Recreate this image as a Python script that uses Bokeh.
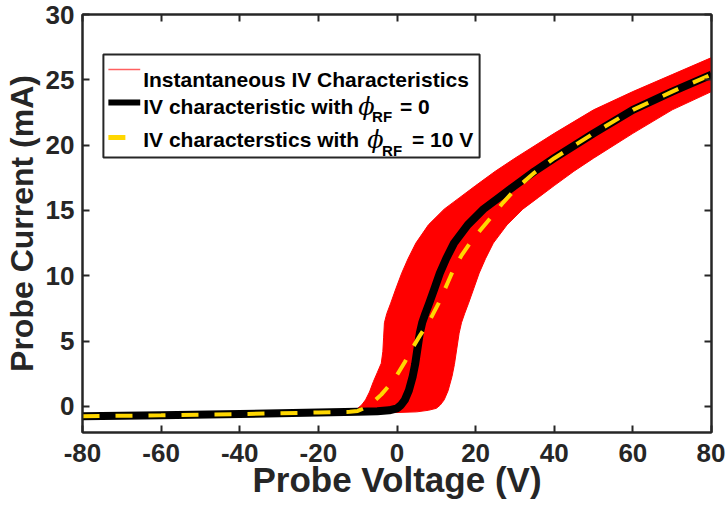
from bokeh.plotting import figure
from bokeh.models import Range1d, LinearAxis, FixedTicker, CustomJSTickFormatter
from bokeh.core.properties import value
from bokeh.embed import file_html
from bokeh.resources import INLINE

# Langmuir probe I-V data (probe voltage in V, probe current in mA)

# IV characteristic with phi_RF = 0
black_v = [-80, -60, -40, -20, -10, -5, -2, 0, 1, 2, 3, 4, 4.6, 5.2, 5.8, 6.4, 7.2, 8.2,
           9.5, 10.9, 12.5, 14.5, 18, 22, 26, 30, 35, 40, 50, 60, 70, 80]
black_i = [-0.76, -0.68, -0.59, -0.47, -0.42, -0.38, -0.3, -0.15, 0.1, 0.5, 1.2, 2.3, 3.2, 4.4,
           5.6, 6.4, 7.1, 7.9, 9.0, 10.2, 11.3, 12.5, 13.9, 15.1, 16.0, 16.9, 18.0, 19.0,
           20.9, 22.7, 24.1, 25.4]

# IV characteristic averaged with phi_RF = 10 V
avg_v = [-80, -60, -40, -20, -12, -10, -8, -6, -4, -2, 0, 2, 4, 6, 8, 10.6, 12.5, 14.4,
         16.5, 19, 21.5, 24, 27, 30, 35, 40, 50, 60, 70, 80]
avg_i = [-0.76, -0.68, -0.59, -0.47, -0.42, -0.35, -0.1, 0.35, 0.9, 1.6, 2.4, 3.4, 4.5,
         5.5, 6.4, 7.9, 9.2, 10.5, 11.6, 12.7, 13.6, 14.5, 15.6, 16.6, 17.9, 19.0, 20.9,
         22.7, 24.1, 25.4]

# Envelope of the instantaneous IV characteristics (upper-left and lower-right edges)
env_upper_v = [-80, -60, -40, -20, -15, -12, -10, -9, -8, -7, -6, -5, -4, -3.6, -3.4, -3.2,
               -2.6, -1.6, -0.3, 1.2, 2.8, 4.8, 8, 12, 16, 20, 25, 30, 40, 50, 60, 70, 80]
env_upper_i = [-0.66, -0.57, -0.5, -0.43, -0.38, -0.3, -0.15, 0.1, 0.5, 1.1, 1.9, 2.6,
               3.3, 4.2, 5.3, 6.4, 7.1, 7.9, 9.0, 10.2, 11.3, 12.5, 13.9, 15.1, 16.0, 16.9,
               18.0, 19.0, 20.9, 22.7, 24.1, 25.4, 26.7]
env_lower_v = [-80, -60, -40, -20, -10, 0, 5, 8, 10, 11, 12, 13, 14, 14.6, 15.2, 15.8, 16.4,
               17.2, 18.2, 19.5, 20.9, 22.5, 24.5, 28, 32, 36, 40, 45, 50, 60, 70, 80]
env_lower_i = [-0.86, -0.78, -0.69, -0.58, -0.52, -0.47, -0.42, -0.3, -0.15, 0.1, 0.5, 1.2,
               2.3, 3.2, 4.4, 5.6, 6.4, 7.1, 7.9, 9.0, 10.2, 11.3, 12.5, 13.9, 15.1, 16.0,
               16.9, 18.0, 19.0, 20.9, 22.7, 24.1]

x_ticks = [-80, -60, -40, -20, 0, 20, 40, 60, 80]
y_ticks = [0, 5, 10, 15, 20, 25, 30]

X_MIN, X_MAX = -80, 80
Y_MIN, Y_MAX = -2, 30

AXIS_COLOR = "#262626"
FONT = "Liberation Sans"

p = figure(width=725, height=510,
           x_range=Range1d(X_MIN, X_MAX), y_range=Range1d(Y_MIN, Y_MAX),
           output_backend="svg", toolbar_location=None, tools="",
           min_border_left=79, min_border_right=14, min_border_top=14, min_border_bottom=78)
p.background_fill_color = "white"
p.border_fill_color = "white"
p.xgrid.visible = False
p.ygrid.visible = False
p.outline_line_color = AXIS_COLOR
p.outline_line_width = 2

# frame geometry in pixels, used to place the hand-made legend
FL, FR, FT, FB = 79, 711, 14, 432


def dx(px):
    return X_MIN + (px - FL) / (FR - FL) * (X_MAX - X_MIN)


def dy(py):
    return Y_MAX - (py - FT) / (FB - FT) * (Y_MAX - Y_MIN)


def style_axis(ax, ticks, labelled, label_size="33px"):
    ax.ticker = FixedTicker(ticks=ticks)
    ax.axis_line_color = AXIS_COLOR
    ax.axis_line_width = 2
    ax.major_tick_line_color = AXIS_COLOR
    ax.major_tick_line_width = 2
    ax.major_tick_in = 7
    ax.major_tick_out = 0
    ax.minor_tick_line_color = None
    if labelled:
        ax.formatter = CustomJSTickFormatter(code="return tick.toString()")
        ax.major_label_text_font = FONT
        ax.major_label_text_font_style = "bold"
        ax.major_label_text_font_size = "26px"
        ax.major_label_text_color = AXIS_COLOR
        ax.axis_label_text_font = FONT
        ax.axis_label_text_font_style = "bold"
        ax.axis_label_text_font_size = label_size
        ax.axis_label_text_color = AXIS_COLOR
    else:
        ax.formatter = CustomJSTickFormatter(code="return ''")
        ax.major_label_standoff = 0
        ax.axis_label = None


style_axis(p.xaxis[0], x_ticks, True, "35px")
style_axis(p.yaxis[0], y_ticks, True, "32px")
p.xaxis.axis_label = "Probe Voltage (V)"
p.yaxis.axis_label = "Probe Current (mA)"
p.xaxis.major_label_standoff = 11
p.xaxis.axis_label_standoff = -5
p.yaxis.major_label_standoff = 8
p.yaxis.axis_label_standoff = 3

top_axis = LinearAxis()
style_axis(top_axis, x_ticks, False)
p.add_layout(top_axis, "above")
right_axis = LinearAxis()
style_axis(right_axis, y_ticks, False)
p.add_layout(right_axis, "right")

# band swept by the instantaneous IV characteristics
band_x = env_upper_v + env_lower_v[::-1]
band_y = env_upper_i + env_lower_i[::-1]
p.patch(band_x, band_y, fill_color="#FF0000", line_color="#FF0000", line_width=1)

# IV characteristic with phi_RF = 0
p.line(black_v, black_i, line_color="black", line_width=8, line_join="round")

# averaged IV characteristic with phi_RF = 10 V
p.line(avg_v, avg_i, line_color="#FFD700", line_width=4, line_dash="17 16")

# legend box
p.quad(left=[dx(100)], right=[dx(478)], top=[dy(54)], bottom=[dy(157)],
       fill_color="white", line_color=AXIS_COLOR, line_width=2)

# legend samples
p.line([dx(105), dx(137)], [dy(69), dy(69)], line_color="#FF6060", line_width=1.5)
p.line([dx(105), dx(137)], [dy(102), dy(102)], line_color="black", line_width=6)
p.line([dx(105), dx(137)], [dy(137), dy(137)], line_color="#FFD700", line_width=5,
       line_dash="17 16")


def legend_text(px, py, txt, size, style="bold", font=FONT):
    p.text(x=[dx(px)], y=[dy(py)], text=[txt], text_font=value(font),
           text_font_style=style, text_font_size=size, text_color="black",
           text_align="left", text_baseline="alphabetic")


legend_text(140, 79, "Instantaneous IV Characteristics", "21px")
legend_text(140, 106, "IV characteristic with", "21px")
legend_text(356, 106, "ϕ", "24px", "italic", "DejaVu Serif")
legend_text(370, 116, "RF", "15px")
legend_text(398, 106, "= 0", "21px")
legend_text(140, 139, "IV characterstics with", "21px")
legend_text(365, 139, "ϕ", "24px", "italic", "DejaVu Serif")
legend_text(380, 150, "RF", "15px")
legend_text(410, 139, "= 10 V", "21px")

open("out.html", "w").write(file_html(p, INLINE))
